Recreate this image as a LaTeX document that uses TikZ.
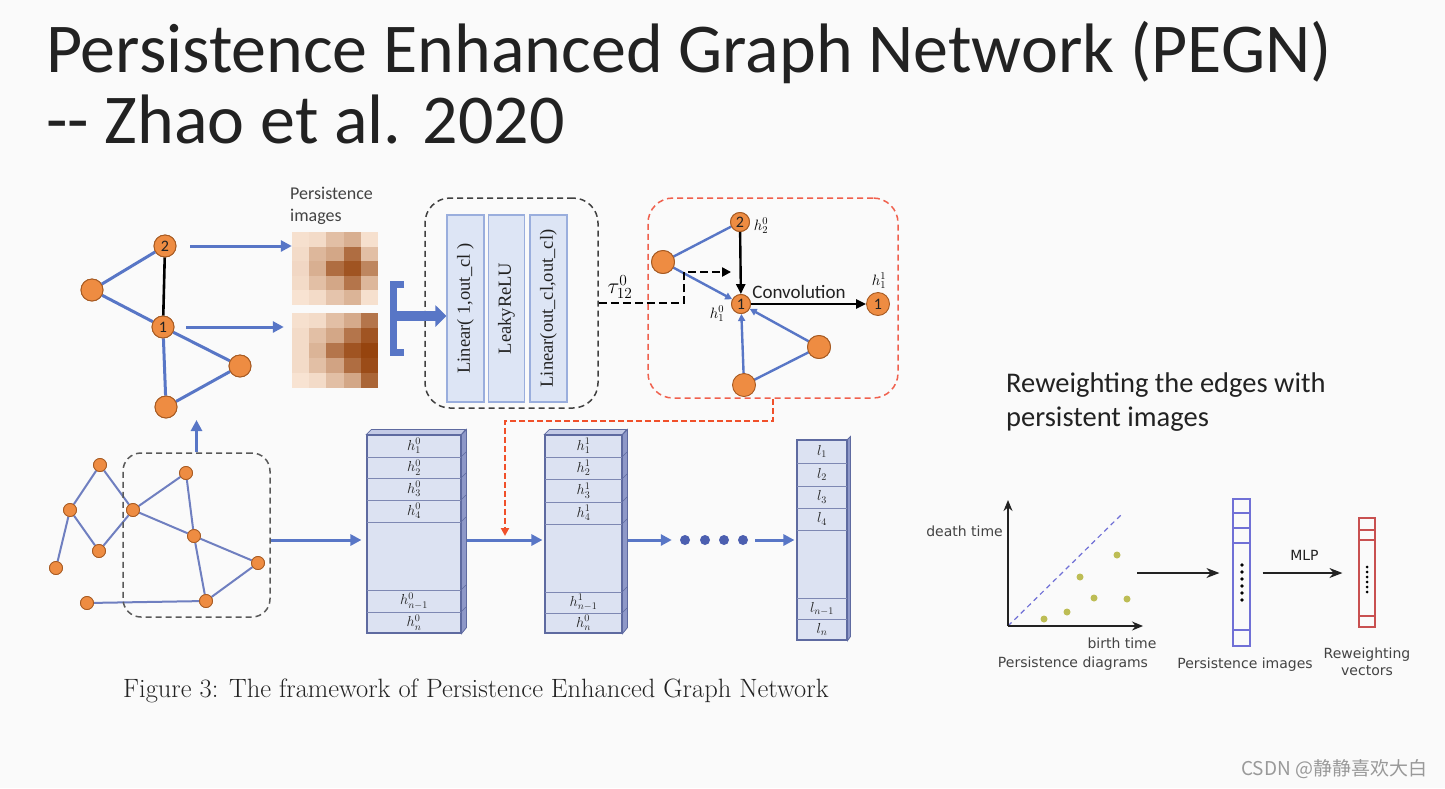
\RequirePackage{fix-cm}
\documentclass[tikz,border=0pt]{standalone}
\usepackage{fontspec}
\newfontfamily\calfont{Carlito}
\newfontfamily\dejfont{DejaVu Sans}
\newfontfamily\tmsfont{Liberation Serif}
\newfontfamily\cjkfont{Noto Sans CJK SC}
\usetikzlibrary{arrows.meta,calc}
\definecolor{bgc}{HTML}{FAFAFA}
\definecolor{orN}{HTML}{EE8C42}
\definecolor{orD}{HTML}{A65A22}
\definecolor{blE}{HTML}{5876C6}
\definecolor{gE}{HTML}{6F7FC0}
\definecolor{heatD}{HTML}{96440E}
\definecolor{peach}{HTML}{FBE8D8}
\definecolor{lbF}{HTML}{DDE5F5}
\definecolor{lbD}{HTML}{9AAEDD}
\definecolor{stF}{HTML}{DCE2F2}
\definecolor{stD}{HTML}{5E6AA0}
\definecolor{stS}{HTML}{8E98C8}
\definecolor{stT}{HTML}{C3CAE6}
\definecolor{redD}{HTML}{F0604D}
\definecolor{redA}{HTML}{F0502A}
\definecolor{dotB}{HTML}{4C5FB0}
\definecolor{pvB}{HTML}{7070D6}
\definecolor{rvR}{HTML}{C85050}
\definecolor{ptY}{HTML}{BDBD55}
\definecolor{txt}{HTML}{222222}
\newcommand\myfs[1]{\fontsize{#1}{#1}\selectfont}
\begin{document}
\begin{tikzpicture}[x=1pt,y=-1pt,
 onode/.style={circle,fill=orN,draw=orD,line width=0.9pt,inner sep=0pt,minimum size=#1,font=\calfont\myfs{16}\color{txt}},
 onode/.default=22pt,
 gnode/.style={circle,fill=orN,draw=orD,line width=0.8pt,inner sep=0pt,minimum size=13pt},
 bedge/.style={blE,line width=3pt},
 kedge/.style={black,line width=2.6pt},
 barr/.style={blE,line width=3pt,-{Triangle[length=11pt,width=11pt]}},
 sbarr/.style={blE,line width=2.4pt,-{Triangle[length=7pt,width=7pt]}},
 karr/.style={black,line width=2.4pt,-{Triangle[length=10pt,width=9pt]}},
 gedge/.style={gE,line width=2pt},
 lbox/.style={draw=lbD,fill=lbF,line width=1.2pt,minimum width=#1,minimum height=187pt,inner sep=0pt},
 ltext/.style={rotate=90,font=\tmsfont\myfs{18.5}\color{txt}},
 stface/.style={draw=stD,fill=stF,line width=1.1pt,inner sep=0pt},
 stline/.style={stD!80,line width=1pt},
 lab/.style={font=\myfs{14.5}\color{txt},inner sep=0pt},
 dlab/.style={font=\dejfont\myfs{14}\color{txt!85},inner sep=0pt},
 bdash/.style={draw=black!75,line width=1.5pt,dash pattern=on 6pt off 4pt,rounded corners=25pt},
 rdash/.style={draw=redD,line width=1.5pt,dash pattern=on 6pt off 4pt,rounded corners=25pt},
]
\useasboundingbox[fill=bgc] (0,0) rectangle (1445,788);

% ---------- title ----------
\node[anchor=base west,inner sep=0pt,font=\calfont\myfs{70}\color{txt}] (t1) at (46,72) {Persistence Enhanced Graph Network (PEGN)};
\node[anchor=base west,inner sep=0pt,font=\calfont\myfs{70}\color{txt}] (t2) at (46,143) {-{}- Zhao et al. 2020};

% ---------- top-left graph ----------
\node[onode] (n2) at (165,246) {2};
\node[onode] (nl) at (92,290) {};
\node[onode] (n1) at (163,327) {1};
\node[onode] (nr) at (240,366) {};
\node[onode] (nb) at (166,407) {};
\draw[bedge] (nl) -- (n2);
\draw[bedge] (nl) -- (n1);
\draw[bedge] (n1) -- (nr);
\draw[bedge] (n1) -- (nb);
\draw[bedge] (nb) -- (nr);
\draw[kedge] (n2) -- (n1);
\node[onode] at (n2) {2};
\node[onode] at (nl) {};
\node[onode] at (n1) {1};
\node[onode] at (nr) {};
\node[onode] at (nb) {};

% ---------- persistence images ----------
\node[anchor=north west,inner sep=0pt,align=left,font=\calfont\fontsize{18}{22}\selectfont\color{txt!85}] (pilab) at (290,187) {Persistence\\images};
\node[minimum width=86pt,minimum height=73pt,inner sep=0pt] (pi1) at (335,268.5) {};
\node[minimum width=86pt,minimum height=75pt,inner sep=0pt] (pi2) at (335,350.5) {};
\foreach \row [count=\j from 0] in {{5,8,25,35,5},{8,30,40,75,25},{10,35,75,90,60},{8,25,40,70,30},{3,8,22,32,5}}{
  \foreach \v [count=\i from 0] in \row {
    \fill[heatD!\v!peach] ({292+17.2*\i},{232+14.6*\j}) rectangle ++(17.4,14.8);
  }}
\foreach \row [count=\j from 0] in {{5,8,25,38,70},{8,25,40,70,90},{8,32,70,90,100},{8,25,42,75,95},{3,8,25,40,80}}{
  \foreach \v [count=\i from 0] in \row {
    \fill[heatD!\v!peach] ({292+17.2*\i},{313+15*\j}) rectangle ++(17.4,15.2);
  }}
\draw[barr,shorten <=14pt] (n2.east) -- (n2.east -| pi1.west);
\draw[barr,shorten <=12pt,shorten >=8pt] (n1.east) -- (n1.east -| pi2.west);

% ---------- bracket + linear block ----------
\node[bdash,minimum width=173pt,minimum height=210pt,inner sep=0pt] (lin) at (511.5,303) {};
\node[lbox=37pt] (lb1) at (465.5,308.5) {};
\node[lbox=36pt] (lb2) at (506.5,308.5) {};
\node[lbox=37pt] (lb3) at (548.5,308.5) {};
\node[ltext] (lt1) at (lb1) {Linear( 1,out\_cl )};
\node[ltext] (lt2) at (lb2) {LeakyReLU};
\node[ltext] (lt3) at (lb3) {Linear(out\_cl,out\_cl)};
\coordinate (brk) at (396,316);
\draw[blE,line width=7pt] (404,284) -- (393.5,284) -- (393.5,352) -- (404,352);
\draw[blE,line width=10pt,-{Triangle[length=11pt,width=21pt]}] (brk) -- (lb1.west |- brk);

% ---------- tau dashed arrow ----------
\node[lab,font=\myfs{22}] (tau) at (620,287) {$\tau^0_{12}$};
\coordinate (tcorner) at (684,272);

% ---------- red box graph ----------
\node[rdash,minimum width=250pt,minimum height=200pt,inner sep=0pt] (rbox) at (773,298) {};
\node[onode=19pt] (r2) at (740,222) {2};
\node[onode=23pt] (rl) at (663,262) {};
\node[onode=19pt] (r1) at (741,304) {1};
\node[onode=23pt] (rr1) at (878,304) {1};
\node[onode=23pt] (rlow) at (819,347) {};
\node[onode=22pt] (rbot) at (744,385) {};
\draw[blE,line width=2.4pt] (rl) -- (r2);
\draw[sbarr] (rl) -- (r1);
\draw[sbarr] (rbot) -- (r1);
\draw[sbarr] (rlow) -- (r1);
\draw[blE,line width=2.4pt] (rbot) -- (rlow);
\draw[karr] (r2) -- (r1);
\draw[karr] (r1) -- (rr1);
\node[inner sep=0pt,font=\calfont\myfs{19}\color{txt}] (conv) at (799,292) {Convolution};
\node[onode=19pt] at (r2) {2};
\node[onode=23pt] at (rl) {};
\node[onode=19pt] at (r1) {1};
\node[onode=23pt] at (rbot) {};
\node[onode=23pt] at (rlow) {};
\node[lab,font=\myfs{15}] (h20) at (761,226) {$h^0_2$};
\node[lab,font=\myfs{15}] (h10) at (717,314) {$h^0_1$};
\node[lab,font=\myfs{15}] (h11) at (879,281) {$h^1_1$};
\draw[black,line width=2.6pt,dash pattern=on 8pt off 4pt,-{Triangle[length=9pt,width=9pt]}] (lin.east) -| (tcorner) -- (r1.west |- tcorner);

% ---------- red dashed connector ----------
\coordinate (redend) at (505,536);
\draw[redA,line width=2.5pt,dash pattern=on 6pt off 3pt,-{Triangle[length=8pt,width=8pt]}] (rbox.south) -- ++(0,22) -| (redend);

% ---------- bottom-left graph ----------
\node[gnode] (ga) at (100,465) {};
\node[gnode] (gb) at (70,510) {};
\node[gnode] (gc) at (99,551) {};
\node[gnode] (gd) at (56,568) {};
\node[gnode] (ge) at (133,510) {};
\node[gnode] (gf) at (186,473) {};
\node[gnode] (gg) at (194,536) {};
\node[gnode] (gh) at (258,563) {};
\node[gnode] (gi) at (206,601) {};
\node[gnode] (gj) at (87,603) {};
\foreach \u/\w in {ga/gb,ga/ge,gb/gc,gb/gd,gc/ge,ge/gf,ge/gg,gf/gg,gg/gh,gg/gi,gi/gh,gj/gi}
  \draw[gedge] (\u) -- (\w);
\foreach \u in {ga,gb,gc,gd,ge,gf,gg,gh,gi,gj}
  \node[gnode] at (\u) {};
\node[draw=black!65,line width=1.5pt,dash pattern=on 6pt off 4pt,rounded corners=18pt,minimum width=147pt,minimum height=164pt,inner sep=0pt] (gbox) at (196.5,535) {};
\coordinate (upend) at (196.5,420);
\draw[barr] (gbox.north) -- (upend);

% ---------- stacks ----------
\coordinate (ay) at (0,540);
% stack 1
\node[stface,minimum width=94pt,minimum height=198pt] (s1) at (414,534) {};
\fill[stT,draw=stD,line width=0.8pt] (s1.north west) -- ++(5,-5) -- ++(94,0) -- (s1.north east) -- cycle;
\fill[stS,draw=stD,line width=0.8pt] (s1.north east) -- ++(5,-5) -- ++(0,198) -- (s1.south east) -- cycle;
\foreach \yy in {457,478,500,522,590,612} {\draw[stline] (367,\yy) -- (461,\yy); \draw[stD,line width=0.6pt] (461,\yy) -- ++(5,-5);}
\node[lab] (a1) at (414,446) {$h^0_1$};
\node[lab] (a2) at (414,467.5) {$h^0_2$};
\node[lab] (a3) at (414,489) {$h^0_3$};
\node[lab] (a4) at (414,511) {$h^0_4$};
\node[lab] (a5) at (414,601) {$h^0_{n-1}$};
\node[lab] (a6) at (414,622.5) {$h^0_n$};
% stack 2
\node[stface,minimum width=77pt,minimum height=198pt] (s2) at (583.5,534) {};
\fill[stT,draw=stD,line width=0.8pt] (s2.north west) -- ++(5,-5) -- ++(77,0) -- (s2.north east) -- cycle;
\fill[stS,draw=stD,line width=0.8pt] (s2.north east) -- ++(5,-5) -- ++(0,198) -- (s2.south east) -- cycle;
\foreach \yy in {457,479,502,524,592,613} {\draw[stline] (545,\yy) -- (622,\yy); \draw[stD,line width=0.6pt] (622,\yy) -- ++(5,-5);}
\node[lab] (b1) at (583.5,446) {$h^1_1$};
\node[lab] (b2) at (583.5,468) {$h^1_2$};
\node[lab] (b3) at (583.5,490.5) {$h^1_3$};
\node[lab] (b4) at (583.5,513) {$h^1_4$};
\node[lab] (b5) at (583.5,602.5) {$h^1_{n-1}$};
\node[lab] (b6) at (583.5,623) {$h^0_n$};
% stack 3
\node[stface,minimum width=50pt,minimum height=200pt] (s3) at (822,540) {};
\fill[stS,draw=stD,line width=0.8pt] (s3.north east) -- ++(3,-3) -- ++(0,200) -- (s3.south east) -- cycle;
\foreach \yy in {463,486,508,530,598,619} \draw[stline] (797,\yy) -- (847,\yy);
\node[lab] (c1) at (822,451.5) {$l_1$};
\node[lab] (c2) at (822,474.5) {$l_2$};
\node[lab] (c3) at (822,497) {$l_3$};
\node[lab] (c4) at (822,519) {$l_4$};
\node[lab] (c5) at (822,608.5) {$l_{n-1}$};
\node[lab] (c6) at (822,629.5) {$l_n$};
% arrows and dots
\foreach \k/\xx in {1/685,2/705,3/724,4/743}
  \node[circle,fill=dotB,inner sep=0pt,minimum size=10pt] (d\k) at (\xx,540) {};
\draw[barr,shorten >=5pt] (gbox.east |- ay) -- (s1.west |- ay);
\draw[barr,shorten <=5pt,shorten >=2pt] (s1.east |- ay) -- (s2.west |- ay);
\draw[barr,shorten <=5pt,shorten >=8pt] (s2.east |- ay) -- (d1.west);
\draw[barr,shorten <=7pt,shorten >=2pt] (d4.east) -- (s3.west |- ay);

% ---------- caption ----------
\node[anchor=base west,inner sep=0pt,font=\myfs{26.5}\color{txt}] (cap) at (123,697) {Figure 3: The framework of Persistence Enhanced Graph Network};

% ---------- right panel ----------
\node[anchor=base west,inner sep=0pt,font=\calfont\myfs{28.5}\color{txt}] (rw1) at (1006,392) {Reweighting the edges with};
\node[anchor=base west,inner sep=0pt,font=\calfont\myfs{28.5}\color{txt}] (rw2) at (1006,426) {persistent images};

\coordinate (o) at (1008,626);
\coordinate (yt) at (1008,500);
\coordinate (xt) at (1143,626);
\draw[pvB,line width=1.2pt,dash pattern=on 5pt off 4pt] (o) -- (1123,513);
\draw[txt,line width=1.3pt,-{Stealth[length=11pt,width=9pt]}] (o) -- (yt);
\draw[txt,line width=1.3pt,-{Stealth[length=11pt,width=9pt]}] (o) -- (xt);
\foreach \px/\py [count=\k] in {1117/555,1080/577,1094/598,1127/599,1067/612,1044/619}
  \node[circle,fill=ptY,inner sep=0pt,minimum size=7pt] (pt\k) at (\px,\py) {};
\node[dlab,anchor=east] (dt) at (1003,531) {death time};
\node[dlab] (bt) at (1122,643) {birth time};
\node[dlab] (pd) at (1073,664) {Persistence diagrams};

\node[draw=pvB,line width=1.2pt,minimum width=17pt,minimum height=147pt,inner sep=0pt] (pv) at (1241.5,572.5) {};
\foreach \yy in {513,528,543,630} \draw[pvB,line width=1.2pt] (1233,\yy) -- (1250,\yy);
\foreach \yy in {565,572,579,586,593,600} \fill[black] (1242,\yy) circle (1.8);
\node[dlab] (pil) at (1245,665) {Persistence images};

\node[draw=rvR,line width=1.2pt,minimum width=16pt,minimum height=109pt,inner sep=0pt] (rv) at (1367,572.5) {};
\foreach \yy in {530,540,616} \draw[rvR,line width=1.2pt] (1359,\yy) -- (1375,\yy);
\foreach \yy in {567,572,577,582,587,592} \fill[black] (1367,\yy) circle (1.5);
\node[dlab,align=center,font=\dejfont\fontsize{14}{17}\selectfont\color{txt!85}] (rvl) at (1367,662) {Reweighting\\vectors};

\coordinate (arrs) at (1137,573);
\draw[txt,line width=1.3pt,-{Stealth[length=13pt,width=10pt]},shorten >=13pt] (arrs) -- (pv.west |- arrs);
\draw[txt,line width=1.3pt,-{Stealth[length=13pt,width=10pt]},shorten <=12pt,shorten >=16pt] (pv.east |- arrs) -- node[dlab,above=12pt] (mlp) {MLP} (rv.west |- arrs);

% ---------- watermark ----------
\node[anchor=west,inner sep=0pt,font=\cjkfont\myfs{19}\color{black!40}] (wm) at (1241,769) {CSDN @静静喜欢大白};
\end{tikzpicture}
\end{document}
